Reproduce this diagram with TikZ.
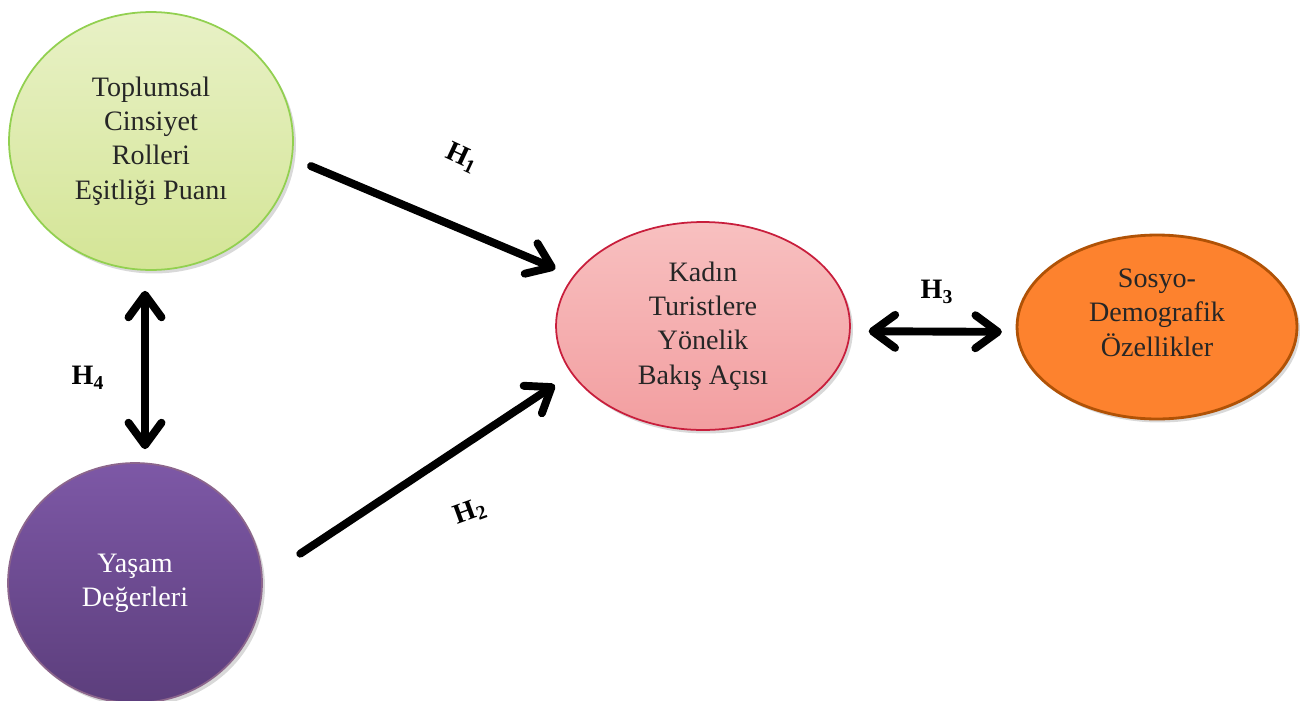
\documentclass[tikz,border=0pt]{standalone}
\usepackage{fontspec}
\setmainfont{Liberation Serif}
\usetikzlibrary{arrows.meta, shapes.geometric, shadows}

\begin{document}
\begin{tikzpicture}[x = 0.02cm, y = -0.02cm,
  oval/.style = {ellipse, draw, line width = 1pt, inner sep = 0pt, align = center,
    font = \fontsize{16}{19.5}\selectfont, text = black!85,
    drop shadow = {opacity = .3, shadow xshift = .06cm, shadow yshift = -.07cm}},
  harrow/.style = {line width = 4.5pt, line cap = round,
    -{Straight Barb[length = .45cm, width = .66cm, round]}},
  hharrow/.style = {harrow, {Straight Barb[length = .45cm, width = .66cm, round]}-{Straight Barb[length = .45cm, width = .66cm, round]}},
  hlabel/.style = {font = \fontsize{16}{19}\selectfont\bfseries}]
\useasboundingbox (0,0) rectangle (1300,700);
\node (green) [oval, draw = {rgb,255:red,146;green,208;blue,80}, top color = {rgb,255:red,232;green,241;blue,198}, bottom color = {rgb,255:red,212;green,229;blue,150}, minimum width = 5.68cm, minimum height = 5.16cm] at (151,141) {Toplumsal\\ Cinsiyet\\ Rolleri\\ Eşitliği Puanı};
\node (purple) [oval, draw = violet!50!black!60, top color = {rgb,255:red,125;green,88;blue,166}, bottom color = {rgb,255:red,92;green,62;blue,124}, text = white, minimum width = 5.08cm, minimum height = 4.8cm] at (135,583) {Yaşam\\ Değerleri};
\node (pink) [oval, draw = {rgb,255:red,200;green,30;blue,60}, top color = {rgb,255:red,248;green,192;blue,192}, bottom color = {rgb,255:red,242;green,158;blue,160}, minimum width = 5.88cm, minimum height = 4.16cm] at (703,326) {Kadın\\ Turistlere\\ Yönelik\\ Bakış Açısı};
\node (orange) [oval, draw = {rgb,255:red,176;green,82;blue,6}, line width = 1.6pt, fill = {rgb,255:red,253;green,130;blue,46}, minimum width = 5.6cm, minimum height = 3.68cm] at (1157,327) {\raisebox{.24cm}[\height][\depth]{\begin{tabular}{@{}c@{}}Sosyo-\\ Demografik\\ Özellikler\end{tabular}}};
\draw[harrow, shorten < = .4cm, shorten > = .38cm] (green.-7) -- (pink.159);
\draw[harrow, shorten < = .9cm, shorten > = .4cm] (purple.2) -- (pink.-160);
\draw[hharrow, shorten < = .36cm, shorten > = .28cm] (pink.-2) -- (orange.182);
\draw[hharrow, shorten < = .4cm, shorten > = .26cm] ([xshift = -.12cm]green.south) -- ([xshift = .2cm]purple.north);
\node (h1) [hlabel, rotate = -25] at (462,158) {H\textsubscript{1}};
\node (h2) [hlabel, rotate = 20] at (470,512) {H\textsubscript{2}};
\node (h3) [hlabel] at (937,292) {H\textsubscript{3}};
\node (h4) [hlabel] at (88,378) {H\textsubscript{4}};
\end{tikzpicture}
\end{document}
